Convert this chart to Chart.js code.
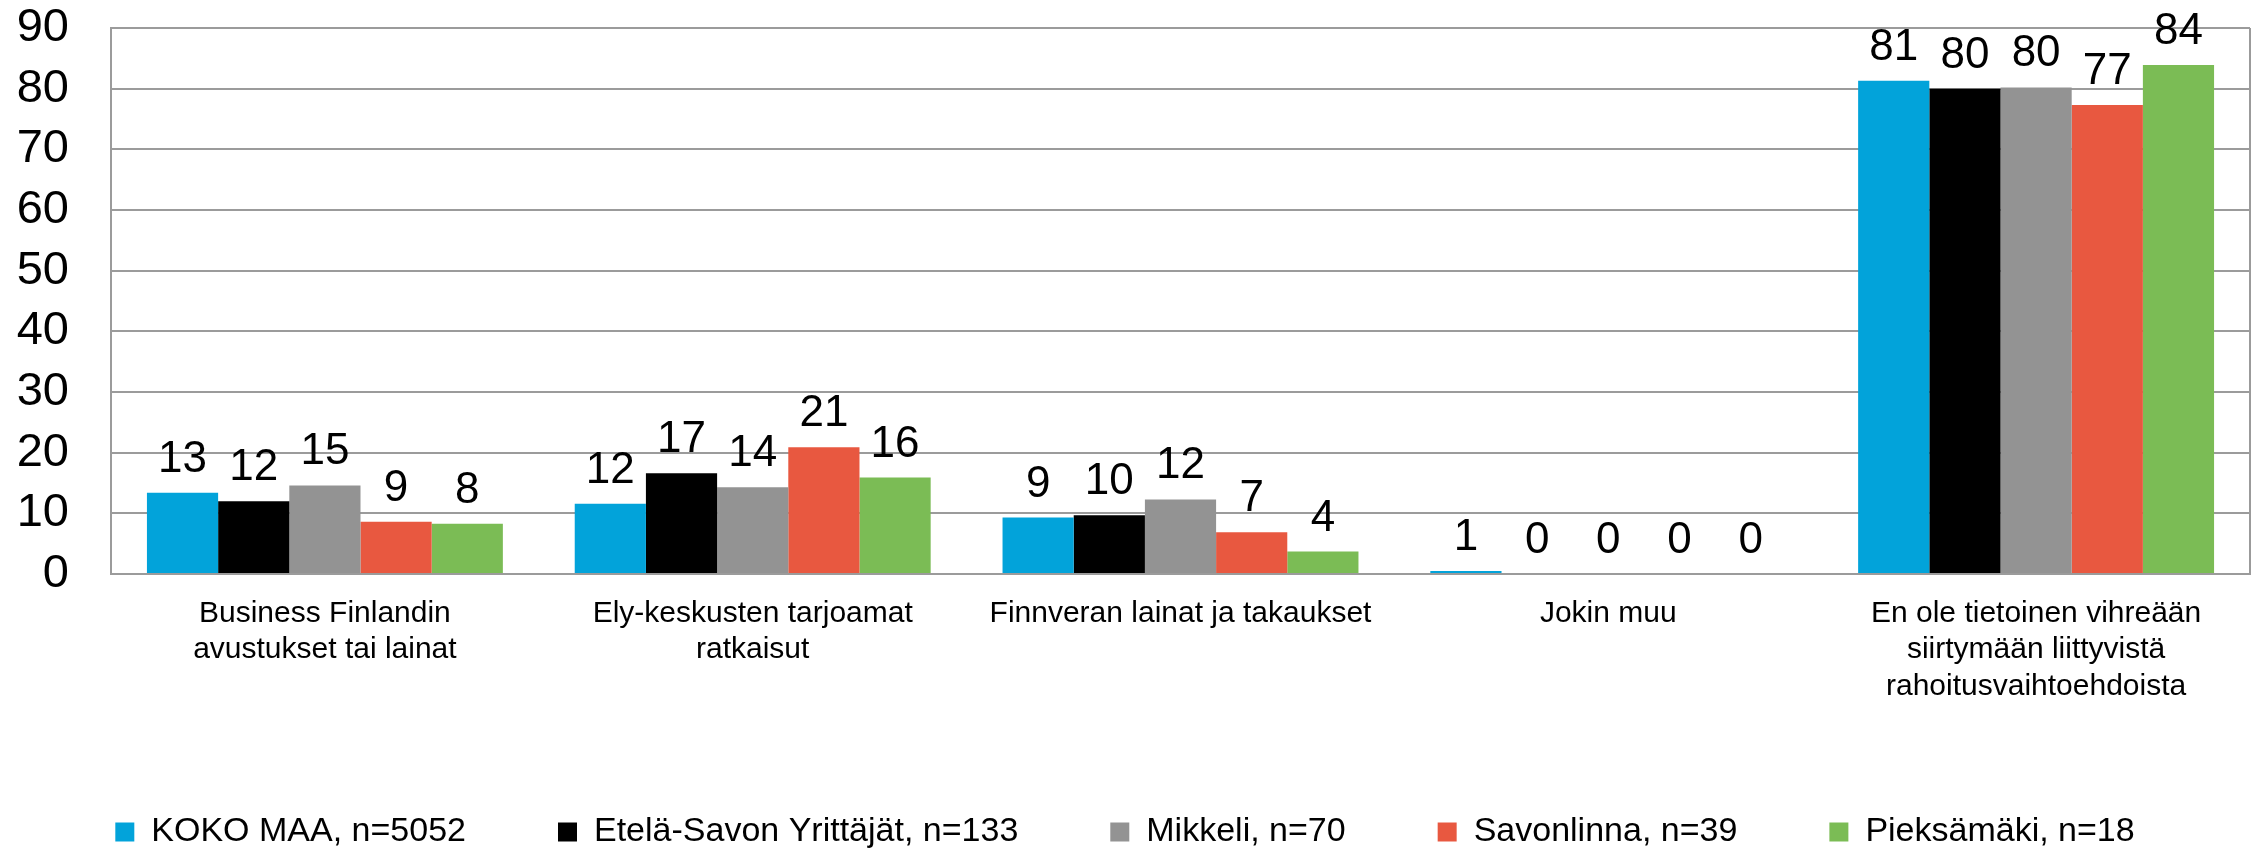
<!DOCTYPE html>
<html>
<head>
<meta charset="utf-8">
<script src="https://cdn.jsdelivr.net/npm/chart.js@4.4.1/dist/chart.umd.min.js"></script>
<style>
  html, body { margin: 0; padding: 0; background: #fff; }
  canvas { display: block; }
</style>
</head>
<body>
<canvas id="grafica" width="2260" height="853"></canvas>
<script>
/* Datos */
const categorias = [
  ['Business Finlandin', 'avustukset tai lainat'],
  ['Ely-keskusten tarjoamat', 'ratkaisut'],
  'Finnveran lainat ja takaukset',
  'Jokin muu',
  ['En ole tietoinen vihreään', 'siirtymään liittyvistä', 'rahoitusvaihtoehdoista']
];
const series = ['KOKO MAA, n=5052', 'Etelä-Savon Yrittäjät, n=133', 'Mikkeli, n=70', 'Savonlinna, n=39', 'Pieksämäki, n=18'];
const kokoMaa    = [13.4, 11.6,  9.3, 0.5, 81.3];
const etelaSavo  = [12.0, 16.6,  9.7, 0,   80.0];
const mikkeli    = [14.6, 14.3, 12.3, 0,   80.2];
const savonlinna = [ 8.6, 20.9,  6.9, 0,   77.3];
const pieksamaki = [ 8.3, 15.9,  3.7, 0,   83.9];
const yTicks = [0, 10, 20, 30, 40, 50, 60, 70, 80, 90];

const colores = ['#02A3DA', '#000000', '#939393', '#E85840', '#7BBC55'];
const valores = [kokoMaa, etelaSavo, mikkeli, savonlinna, pieksamaki];
const gris = '#9b9b9b';
const fuente = 'Liberation Sans, Arial, sans-serif';

/* marco derecho + etiquetas de valores */
const marco = {
  id: 'marco',
  beforeDatasetsDraw(chart) {
    const a = chart.chartArea;
    const c = chart.ctx;
    c.save();
    c.strokeStyle = gris;
    c.lineWidth = 2;
    c.beginPath();
    c.moveTo(a.right, a.top);
    c.lineTo(a.right, a.bottom);
    c.stroke();
    c.restore();
  },
  afterDatasetsDraw(chart) {
    const c = chart.ctx;
    c.save();
    c.font = '44px ' + fuente;
    c.fillStyle = '#000';
    c.textAlign = 'center';
    c.textBaseline = 'alphabetic';
    chart.data.datasets.forEach((ds, i) => {
      chart.getDatasetMeta(i).data.forEach((bar, j) => {
        c.fillText(Math.round(ds.data[j]), bar.x, bar.y - 21);
      });
    });
    c.restore();
  }
};

new Chart(document.getElementById('grafica'), {
  type: 'bar',
  data: {
    labels: categorias,
    datasets: series.map((s, i) => ({
      label: s,
      data: valores[i],
      backgroundColor: colores[i],
      borderWidth: 0,
      barPercentage: 1,
      categoryPercentage: 0.832
    }))
  },
  options: {
    responsive: false,
    animation: false,
    devicePixelRatio: 1,
    layout: { padding: { top: 28, right: 10, left: 0, bottom: -6 } },
    plugins: {
      tooltip: { enabled: false },
      legend: {
        position: 'bottom',
        labels: {
          boxWidth: 19,
          boxHeight: 19,
          padding: 92,
          color: '#000',
          font: { family: fuente, size: 34 }
        }
      }
    },
    scales: {
      x: {
        grid: { display: false },
        border: { display: true, color: gris, width: 2 },
        ticks: {
          color: '#000',
          padding: 13,
          maxRotation: 0,
          autoSkip: false,
          font: { family: fuente, size: 30, lineHeight: 1.22 }
        },
        afterFit(scale) { scale.height = 149; }
      },
      y: {
        min: 0,
        max: 90,
        afterBuildTicks(scale) { scale.ticks = yTicks.map(v => ({ value: v })); },
        grid: { color: gris, lineWidth: 2, drawTicks: false },
        border: { display: true, color: gris, width: 2 },
        ticks: {
          color: '#000',
          padding: 42,
          autoSkip: false,
          font: { family: fuente, size: 47 }
        },
        afterFit(scale) {
          scale.width = 111;
          scale.paddingTop = 0;
          scale.paddingBottom = 0;
        }
      }
    }
  },
  plugins: [marco]
});
</script>
</body>
</html>
